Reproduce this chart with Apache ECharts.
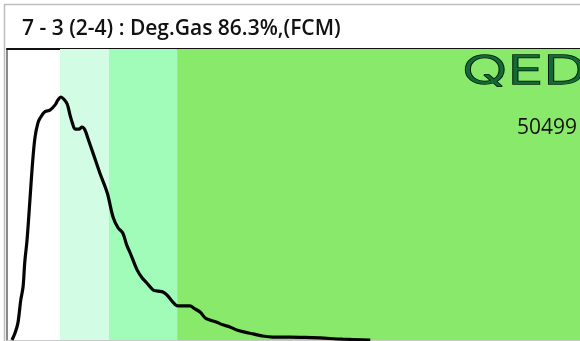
<!DOCTYPE html>
<html>
<head>
<meta charset="utf-8">
<script src="https://cdn.jsdelivr.net/npm/echarts@6/dist/echarts.min.js"></script>
<style>
  html, body { margin: 0; padding: 0; background: #ffffff; }
  #chart { width: 580px; height: 341px; }
</style>
</head>
<body>
<div id="chart"></div>
<script>
// Distribution curve: channel position vs. relative count
const channelX = [0.87, 1.4, 1.9, 2.4, 2.8, 3.1, 3.5, 4.0, 4.5, 4.9, 5.4, 5.8, 6.6, 7.5, 8.4, 8.9, 9.4, 9.9,
  10.5, 11.0, 11.4, 11.9, 12.6, 13.1, 13.6, 14.1, 15.0, 16.2, 17.5, 18.5, 19.4, 20.2, 20.9, 21.5,
  22.7, 23.6, 24.4, 25.5, 26.4, 27.2, 27.9, 28.8, 29.8, 30.9, 31.9, 32.8, 33.7, 34.6, 35.4, 36.5,
  37.7, 38.9, 40.1, 41.5, 42.9, 44.5, 46.4, 49.4, 52.0, 54.6, 58.6, 63.4];
const countY = [0, 2.4, 5.8, 13.7, 18.2, 26.8, 34.4, 48.1, 61.9, 69.8, 74.6, 76.3, 78.4, 79.0, 80.8, 82.5, 83.5, 82.8,
  81.1, 77.3, 74.6, 72.5, 72.5, 73.2, 72.2, 69.4, 64.3, 57.4, 50.5, 42.3, 38.5, 36.8, 32.6, 29.9,
  24.1, 21.3, 19.6, 17.2, 16.8, 16.5, 15.5, 13.4, 11.7, 11.7, 11.7, 10.7, 9.6, 7.6, 6.9, 6.2,
  5.2, 4.5, 3.4, 2.7, 2.1, 1.4, 1.0, 1.0, 0.9, 0.7, 0.3, 0];

// Shaded ranges along the channel axis
const bandStarts = [9.25, 17.8, 29.7];
const bandEnds = [17.8, 29.7, 100];
const bandColors = ['#d3fce4', '#a1fbb9', '#89e96b'];

const titleText = '7 - 3 (2-4) : Deg.Gas 86.3%,(FCM)';
const logoText = 'QED';
const countText = '50499';

const chart = echarts.init(document.getElementById('chart'), null, { renderer: 'canvas' });

const curve = channelX.map((x, i) => [x, countY[i]]);
const bands = bandStarts.map((s, i) => [
  { xAxis: s, itemStyle: { color: bandColors[i] } },
  { xAxis: bandEnds[i] }
]);

chart.setOption({
  animation: false,
  backgroundColor: '#ffffff',
  grid: { left: 7, right: 0, top: 49, bottom: 1, containLabel: false },
  xAxis: [
    {
      type: 'value', min: 0, max: 100, position: 'bottom',
      axisLine: { show: true, lineStyle: { color: '#c8c8c8', width: 1 } },
      axisTick: { show: false }, axisLabel: { show: false }, splitLine: { show: false }
    },
    {
      type: 'value', min: 0, max: 100, position: 'top',
      axisLine: { show: true, lineStyle: { color: '#111111', width: 2 } },
      axisTick: { show: false }, axisLabel: { show: false }, splitLine: { show: false }
    }
  ],
  yAxis: {
    type: 'value', min: 0, max: 100,
    axisLine: { show: true, lineStyle: { color: '#8a8a8a', width: 2 } },
    axisTick: { show: false }, axisLabel: { show: false }, splitLine: { show: false }
  },
  series: [
    {
      type: 'line',
      data: curve,
      smooth: 0.35,
      symbol: 'none',
      clip: true,
      lineStyle: { color: '#050505', width: 3.2 },
      z: 5,
      markArea: { silent: true, data: bands }
    }
  ],
  graphic: [
    {
      type: 'rect', silent: true, z: -1,
      shape: { x: 4.5, y: 4.5, width: 600, height: 360 },
      style: { fill: 'none', stroke: '#bdbdbd', lineWidth: 1.5 }
    },
    {
      type: 'text', x: 22, y: 29, silent: true,
      style: {
        text: titleText,
        font: '600 21px "Open Sans"',
        fill: '#111111',
        verticalAlign: 'middle'
      }
    },
    {
      type: 'text', x: 462, y: 72, scaleX: 1.5, silent: true, z: 10,
      style: {
        text: logoText,
        font: '300 40px Inter',
        fill: '#126b36',
        stroke: '#021a0a',
        lineWidth: 1.4,
        verticalAlign: 'middle'
      }
    },
    {
      type: 'text', x: 517, y: 128, silent: true, z: 10,
      style: {
        text: countText,
        font: 'normal 21px "Open Sans"',
        fill: '#111111',
        verticalAlign: 'middle'
      }
    }
  ]
});
</script>
</body>
</html>
